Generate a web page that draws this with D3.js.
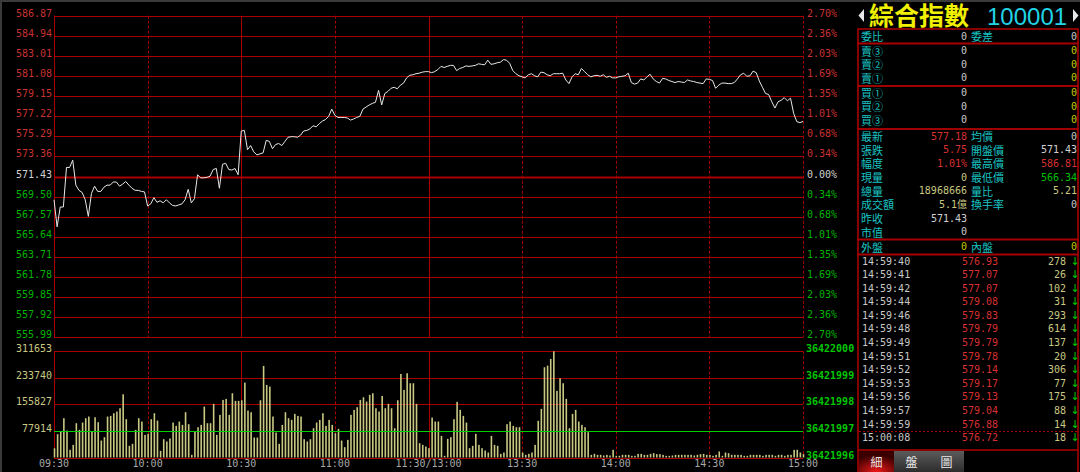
<!DOCTYPE html>
<html><head><meta charset="utf-8">
<script src="https://cdn.jsdelivr.net/npm/d3@7"></script>
<style>
html,body{margin:0;padding:0;background:#000;}
svg{display:block;}
</style></head><body>
<svg id="c" width="1080" height="472"></svg>
<script>
// ---------- DATA ----------
const prevClose = 571.43;
const priceTickLabels = ["586.87","584.94","583.01","581.08","579.15","577.22","575.29","573.36","571.43","569.50","567.57","565.64","563.71","561.78","559.85","557.92","555.99"];
const pctTickLabels = ["2.70%","2.36%","2.03%","1.69%","1.35%","1.01%","0.68%","0.34%","0.00%","0.34%","0.68%","1.01%","1.35%","1.69%","2.03%","2.36%","2.70%"];
const volTickLabels = ["311653","233740","155827","77914"];
const volRightLabels = ["36422000","36421999","36421998","36421997","36421996"];
const timeLabels = ["09:30","10:00","10:30","11:00","11:30/13:00","13:30","14:00","14:30","15:00"];

const prices = [
569.2,566.6,568.5,568.5,572.3,572.3,573.0,570.6,570.1,569.9,
569.2,567.6,569.8,570.5,570.0,570.0,570.4,570.6,570.6,570.9,
570.9,570.5,570.7,570.95,570.6,570.3,570.1,570.1,570.0,569.95,
568.6,568.8,569.4,568.95,569.1,568.9,569.2,568.9,568.65,568.6,
568.7,568.8,569.2,570.2,568.9,569.3,571.6,571.3,571.3,571.35,
571.45,572.1,572.2,570.3,572.6,572.7,572.1,572.05,572.2,571.6,
575.8,575.85,574.0,574.4,573.8,573.5,573.6,573.7,574.9,574.8,
574.1,574.5,574.6,574.4,574.8,575.2,575.25,575.25,575.2,575.4,
575.8,575.85,576.0,576.3,576.2,576.5,576.75,576.9,577.2,577.9,
577.3,577.1,577.1,577.1,577.05,576.85,576.95,577.1,577.2,577.9,
578.1,578.3,578.45,578.55,579.7,578.3,579.4,579.6,579.9,580.0,
579.85,580.2,580.4,580.9,581.15,581.2,581.3,581.35,581.45,581.5,
581.5,581.4,581.5,581.7,582.0,581.9,582.0,582.1,582.1,581.6,
581.8,581.9,582.05,582.0,582.05,582.1,582.25,582.2,582.15,582.6,
582.2,582.25,582.35,582.4,582.65,582.6,582.3,581.6,581.3,581.1,
581.0,580.9,581.2,581.3,581.1,581.0,581.45,581.4,581.2,581.1,
581.3,581.3,581.3,581.35,580.7,580.35,581.0,581.3,581.2,581.8,
581.5,581.2,581.0,581.1,581.15,581.05,581.2,580.95,581.05,580.9,
580.9,581.0,581.05,581.1,581.35,580.45,580.3,580.4,580.8,580.7,
581.0,581.25,580.8,580.55,580.4,580.85,580.8,580.65,580.55,580.45,
580.55,580.5,580.45,580.7,580.6,580.55,580.45,580.4,580.35,580.8,
580.75,580.65,579.9,580.2,580.4,580.4,580.35,580.35,580.45,580.8,
581.2,581.35,581.05,581.1,581.55,581.4,580.6,580.0,579.4,579.3,
578.6,578.0,578.6,578.75,579.0,578.7,578.95,577.5,576.7,576.6,
576.72];

const volumes = [
27000,68400,75200,115300,79100,22500,37100,100600,81100,102600,
115300,120200,76200,118200,103600,49800,59600,120200,122100,129900,
134800,144600,185600,112400,34200,40100,81100,115300,105500,66400,
69400,112400,129900,108400,19500,53700,46900,55700,102600,92800,
105500,95700,132900,97700,7800,76200,88900,95700,149500,100600,
100600,157300,66400,125100,169000,172000,125100,188600,166100,166100,
168000,219800,137800,132900,58600,58600,168000,268700,213000,208100,
120200,73300,40100,95700,132900,115300,110400,128000,122100,120200,
53700,46900,53700,86000,102600,110400,129900,92800,110400,95700,
71300,84000,49800,30300,51800,125100,139700,147500,169000,176800,
164100,183700,188600,144600,134800,180700,144600,157300,144600,86000,
168000,245200,198300,247200,217900,217900,157300,42000,37100,32200,
27400,117200,105500,105500,63500,4900,54700,59600,112400,163200,
139700,122100,102600,27400,34200,69400,37100,27400,20500,14700,
63500,37100,34200,10700,14700,97700,105500,92800,88900,88900,
14700,7800,10700,14700,37100,107500,142600,264800,269700,289200,
311653,195400,232500,217900,172000,86000,128000,139700,105500,95700,
88900,74300,7800,10700,7800,7800,5900,7800,5900,22500,
4900,
4900,7800,7800,7800,4900,4900,10700,10700,7800,7800,
10700,12700,9800,9800,7800,4900,4900,5900,7800,7800,
7800,7800,7800,7800,5900,7800,9800,10700,
7800,7800,4900,7800,17600,4900,14700,12700,7800,7800,
7800,7800,4900,4900,7800,7800,7800,7800,4900,7800,
7800,7800,4900,7800,7800,4900,7800,7800,22500,22500,
14700,9800];

const titleName = "綜合指數";
const titleCode = "100001";
const ratioRow = ["委比","0","委差","0"];
const bookLabels = ["賣③","賣②","賣①","買①","買②","買③"];
const bookLeft = ["0","0","0","0","0","0"];
const bookRight = ["0","0","0","0","0","0"];
const statLabelsL = ["最新","張跌","幅度","現量","總量","成交額","昨收","市值"];
const statValuesL = ["577.18","5.75","1.01%","0","18968666","5.1億","571.43","0"];
const statToneL = ["up","up","up","vol","vol","vol","flat","plain"];
const statLabelsR = ["均價","開盤價","最高價","最低價","量比","換手率","",""];
const statValuesR = ["0","571.43","586.81","566.34","5.21","0","",""];
const statToneR = ["plain","flat","up","down","vol","plain","plain","plain"];
const outerRow = ["外盤","0","內盤","0"];
const tradeTimes = ["14:59:40","14:59:41","14:59:42","14:59:44","14:59:46","14:59:48","14:59:49","14:59:51","14:59:52","14:59:53","14:59:56","14:59:57","14:59:59","15:00:08"];
const tradePrices = ["576.93","577.07","577.07","579.08","579.83","579.79","579.79","579.78","579.14","579.17","579.13","579.04","576.88","576.72"];
const tradeVols = ["278","26","102","31","293","614","137","20","306","77","175","88","14","18"];
const tabLabels = ["細","盤","圖"];

// ---------- STYLE ----------
const C = {
  grid:"#a80000", up:"#d83030", down:"#00c000", flat:"#d0d0d0", vol:"#c8c882",
  plain:"#c8c8c8", label:"#19c3c3", yel:"#c8c800", line:"#e8e8e8", green:"#00c800",
  axisUp:"#c83232", axisDown:"#00b400", time:"#a8a8a8"
};
const MONO = "'DejaVu Sans Mono', 'Noto Sans CJK TC', monospace";
const CJK = "'Noto Sans CJK TC', sans-serif";

const svg = d3.select("#c");
svg.append("rect").attr("width",1080).attr("height",472).attr("fill","#000");
svg.append("rect").attr("x",0).attr("y",0).attr("width",1080).attr("height",2).attr("fill","#3a3a3a");
svg.append("rect").attr("x",0).attr("y",0).attr("width",2).attr("height",472).attr("fill","#3a3a3a");

// ---------- SCALES ----------
const X0 = 54, X1 = 803;
const x = d3.scaleLinear().domain([0,240]).range([X0,X1]);
const yP = d3.scaleLinear().domain([555.99,586.87]).range([337.3,15.7]);
const yV = d3.scaleLinear().domain([0,311653]).range([457.5,351.3]);
const snap = v => Math.round(v) + 0.5;

const g = svg.append("g");

priceTickLabels.forEach((t,i) => {
  const y = snap(yP(+t));
  g.append("line").attr("x1",X0).attr("x2",X1).attr("y1",y).attr("y2",y)
    .attr("stroke",C.grid).attr("stroke-width", +t===prevClose ? 2 : 1);
});
[311653,233740,155827,0].forEach(v => {
  const y = snap(yV(v));
  g.append("line").attr("x1",X0).attr("x2",X1).attr("y1",y).attr("y2",y)
    .attr("stroke",C.grid).attr("stroke-width",1);
});
timeLabels.forEach((t,i) => {
  const xx = snap(x(i*30));
  const solid = (i===0 || i===2 || i===4);
  [[yP.range()[1], yP.range()[0]],[yV.range()[1], yV.range()[0]]].forEach(([a,b]) => {
    g.append("line").attr("x1",xx).attr("x2",xx).attr("y1",a).attr("y2",b)
      .attr("stroke",C.grid).attr("stroke-width",1)
      .attr("stroke-dasharray", solid ? null : "3,2");
  });
});

priceTickLabels.forEach((t,i) => {
  const v = +t;
  const col = v > prevClose ? C.axisUp : (v < prevClose ? C.axisDown : C.flat);
  svg.append("text").attr("x",52).attr("y",yP(v)+1).attr("text-anchor","end")
    .attr("font-family",MONO).attr("font-size",10).attr("fill",col).text(t);
  svg.append("text").attr("x",807).attr("y",yP(v)+1).attr("text-anchor","start")
    .attr("font-family",MONO).attr("font-size",10).attr("fill",col).text(pctTickLabels[i]);
});
volTickLabels.forEach(t => {
  svg.append("text").attr("x",52).attr("y",yV(+t)+1).attr("text-anchor","end")
    .attr("font-family",MONO).attr("font-size",10).attr("fill",C.vol).text(t);
});
volRightLabels.forEach((t,i) => {
  const v = 311653*(volRightLabels.length-1-i)/(volRightLabels.length-1);
  svg.append("text").attr("x",806).attr("y",yV(v)+1).attr("text-anchor","start")
    .attr("font-family",MONO).attr("font-size",10).attr("font-weight","bold").attr("fill",C.green).text(t);
});
timeLabels.forEach((t,i) => {
  svg.append("text").attr("x",x(i*30)).attr("y",467).attr("text-anchor","middle")
    .attr("font-family",MONO).attr("font-size",10).attr("fill",C.time).text(t);
});

svg.append("g").selectAll("rect").data(volumes).join("rect")
  .attr("x",(d,i)=>x(i)-0.3).attr("width",1.6)
  .attr("y",d=>yV(d)).attr("height",d=>yV(0)-yV(d)).attr("fill",C.vol);
svg.append("line").attr("x1",X0).attr("x2",X1)
  .attr("y1",snap(yV(77914))).attr("y2",snap(yV(77914)))
  .attr("stroke","#00d000").attr("stroke-width",1.2);

svg.append("path").datum(prices)
  .attr("d", d3.line().x((d,i)=>x(i)).y(d=>yP(d)))
  .attr("fill","none").attr("stroke",C.line).attr("stroke-width",1);

// ---------- RIGHT PANEL ----------
const P = svg.append("g");
P.append("path").attr("d","M864,9 L864,22 L858.5,15.5 Z").attr("fill","#e8e8e8");
P.append("path").attr("d","M1073,9 L1073,22 L1078.5,15.5 Z").attr("fill","#e8e8e8");
P.append("text").attr("x",869).attr("y",25).attr("font-family",CJK).attr("font-size",25)
  .attr("font-weight","bold").attr("fill","#f0f000").text(titleName);
P.append("text").attr("x",987).attr("y",25).attr("font-family","'Liberation Sans', Arial, sans-serif")
  .attr("font-size",24).attr("fill","#22d3e6").text(titleCode);

const boxes = [[29,43.5],[43.5,86],[86,129],[129,239.5],[239.5,254.5],[254.5,450]];
boxes.forEach(([a,b]) => {
  P.append("rect").attr("x",858).attr("y",a).attr("width",220).attr("height",b-a)
    .attr("fill","none").attr("stroke",C.grid).attr("stroke-width",1.6);
});
P.append("line").attr("x1",859).attr("x2",1077).attr("y1",431.5).attr("y2",431.5)
  .attr("stroke",C.grid).attr("stroke-dasharray","2,2");

function label(txt,xx,y){ P.append("text").attr("x",xx).attr("y",y).attr("dominant-baseline","central")
  .attr("font-family",CJK).attr("font-size",11).attr("fill",C.label).text(txt); }
function val(txt,xx,y,col,anchor){ P.append("text").attr("x",xx).attr("y",y).attr("dominant-baseline","central")
  .attr("text-anchor",anchor||"end").attr("font-family",MONO).attr("font-size",10).attr("fill",col).text(txt); }

label(ratioRow[0],861,36); val(ratioRow[1],967,36,C.plain);
label(ratioRow[2],971,36); val(ratioRow[3],1077,36,C.plain);
const bookY = [50.7,64.3,77.7,92.7,106.3,119.7];
bookLabels.forEach((t,i)=>{
  label(t,861,bookY[i]); val(bookLeft[i],967,bookY[i],C.plain); val(bookRight[i],1077,bookY[i],C.yel);
});
statLabelsL.forEach((t,i)=>{
  const y = 136 + i*13.67;
  label(t,861,y); val(statValuesL[i],967,y,C[statToneL[i]]);
  if (statLabelsR[i]) { label(statLabelsR[i],971,y); val(statValuesR[i],1077,y,C[statToneR[i]]); }
});
label(outerRow[0],861,246.7); val(outerRow[1],967,246.7,C.yel);
label(outerRow[2],971,246.7); val(outerRow[3],1077,246.7,C.yel);
tradeTimes.forEach((t,i)=>{
  const y = 261 + i*13.59;
  val(t,862,y,C.plain,"start");
  val(tradePrices[i],998,y,C.up);
  val(tradeVols[i],1066,y,C.vol);
  P.append("text").attr("x",1075).attr("y",y).attr("dominant-baseline","central").attr("text-anchor","middle")
    .attr("font-family","'DejaVu Sans', sans-serif").attr("font-size",11).attr("fill",C.green).text("↓");
});

const defs = svg.append("defs");
const rg = defs.append("radialGradient").attr("id","tabOn").attr("cx","50%").attr("cy","100%").attr("r","80%");
rg.append("stop").attr("offset","0%").attr("stop-color","#f01818");
rg.append("stop").attr("offset","100%").attr("stop-color","#3a0000");
const lg = defs.append("linearGradient").attr("id","tabOff").attr("x1",0).attr("y1",0).attr("x2",0).attr("y2",1);
lg.append("stop").attr("offset","0%").attr("stop-color","#5c5c5c");
lg.append("stop").attr("offset","100%").attr("stop-color","#2c2c2c");
tabLabels.forEach((t,i)=>{
  const xx = 859 + i*35;
  P.append("rect").attr("x",xx).attr("y",451).attr("width",35).attr("height",21)
    .attr("fill", i===0 ? "url(#tabOn)" : "url(#tabOff)");
  P.append("text").attr("x",xx+17.5).attr("y",461.5).attr("dominant-baseline","central").attr("text-anchor","middle")
    .attr("font-family",CJK).attr("font-size",12).attr("fill","#e8e8e8").text(t);
});
P.append("line").attr("x1",858).attr("x2",858).attr("y1",450).attr("y2",472).attr("stroke",C.grid).attr("stroke-width",1.6);
P.append("line").attr("x1",1078).attr("x2",1078).attr("y1",450).attr("y2",472).attr("stroke",C.grid).attr("stroke-width",1.6);
</script>
</body></html>
